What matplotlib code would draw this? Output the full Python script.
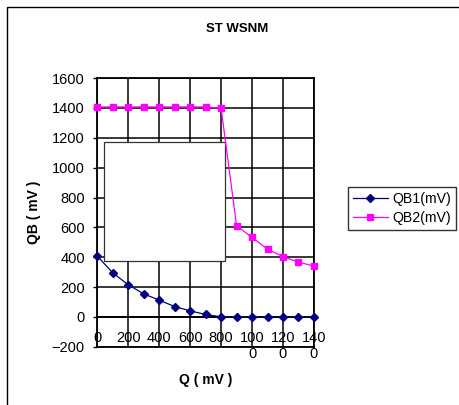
import numpy as np
import matplotlib
matplotlib.use("Agg")
import matplotlib.pyplot as plt
from matplotlib.patches import Rectangle

plt.rcParams['font.family'] = ['Liberation Sans', 'DejaVu Sans']

q = [0, 100, 200, 300, 400, 500, 600, 700, 800, 900, 1000, 1100, 1200, 1300, 1400]
qb1 = [407, 295, 215, 154, 112, 69, 40, 16, 0, 0, 0, 0, 0, 0, 0]
qb2 = [1407, 1407, 1407, 1407, 1407, 1407, 1407, 1407, 1400, 611, 532, 454, 403, 367, 340]
xticks = [0, 200, 400, 600, 800, 1000, 1200, 1400]
xlabels = ['0', '200', '400', '600', '800', '100\n0', '120\n0', '140\n0']
yticks = list(range(-200, 1601, 200))

fig = plt.figure(figsize=(4.6, 4.05), dpi=100)
ax = fig.add_axes([0.2115, 0.144, 0.471, 0.663])

ax.plot(q, qb1, color='#000080', marker='D', markersize=4.5, linewidth=0.9,
        label='QB1(mV)', zorder=4, clip_on=False)
ax.plot(q, qb2, color='#FF00FF', marker='s', markersize=5, linewidth=0.9,
        label='QB2(mV)', zorder=4, clip_on=False)

ax.set_xlim(0, 1400)
ax.set_ylim(-200, 1600)
ax.set_yticks(yticks)
ax.set_xticks(xticks)
ax.set_xticklabels(xlabels, multialignment='center', linespacing=1.55)
ax.grid(True, color='black', linewidth=1.1)
ax.set_axisbelow(True)

for s in ax.spines.values():
    s.set_linewidth(1.3)
ax.spines['bottom'].set_position(('data', 0))
ax.axhline(-200, color='black', linewidth=1.3, clip_on=False)

ax.tick_params(axis='y', labelsize=10.5, length=3, width=1, pad=6)
ax.tick_params(axis='x', labelsize=10.5, length=0, pad=10)
for t in ax.get_xticklabels():
    t.set_verticalalignment('top')

ax.set_ylabel('QB ( mV )', fontsize=10, fontweight='bold', labelpad=8)
ax.text(0.5, -0.125, 'Q ( mV )', transform=ax.transAxes, ha='center', va='center',
        fontsize=10, fontweight='bold')

# blank box over the grid
ax.add_patch(Rectangle((0.0295, 0.319), 0.561, 0.443, transform=ax.transAxes,
                       facecolor='white', edgecolor='#333333', linewidth=0.9, zorder=3))

fig.text(237 / 460, 1 - 29 / 405, 'ST WSNM', ha='center', va='center',
         fontsize=9.5, fontweight='bold')

leg = fig.legend(loc='upper left', bbox_to_anchor=(0.756, 0.539), fontsize=10.2,
                 handlelength=2.5, frameon=True, fancybox=False, borderpad=0.35,
                 labelspacing=0.4, handletextpad=0.3, borderaxespad=0)
leg.get_frame().set_edgecolor('black')
leg.get_frame().set_linewidth(1.0)

fig.add_artist(Rectangle((0.0146, -0.1), 1.2, 1.082, transform=fig.transFigure,
                         facecolor='none', edgecolor='black', linewidth=1.0))

fig.savefig('out.png', dpi=100)
